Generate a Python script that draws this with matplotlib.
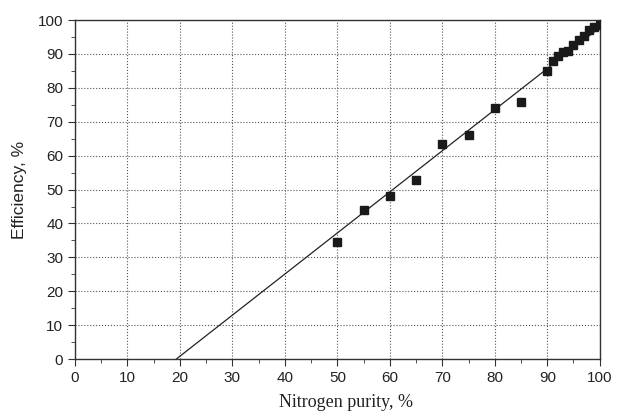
import numpy as np
import matplotlib
matplotlib.use('Agg')
import matplotlib.pyplot as plt
from matplotlib.ticker import MultipleLocator

# measured points
purity = [50, 55, 60, 65, 70, 75, 80, 85, 90, 91, 92, 93, 94, 95, 96, 97, 98, 99, 100]
efficiency = [34.4, 44.0, 48.0, 52.8, 63.3, 66.0, 74.0, 75.8, 85.0, 87.8, 89.3,
              90.5, 91.0, 92.5, 94.0, 95.2, 97.0, 98.0, 98.6]

# linear fit end points
fit_x = [19.3, 100]
fit_y = [0, 97.8]

fig = plt.figure(figsize=(6.17, 4.18), dpi=100)
ax = fig.add_axes([0.1216, 0.141, 0.8504, 0.811])

ax.plot(fit_x, fit_y, color='#222222', lw=0.9, zorder=2)
ax.plot(purity, efficiency, 's', color='#1a1a1a', ms=6, zorder=3)

ax.set_xlim(0, 100)
ax.set_ylim(0, 100)
ax.xaxis.set_major_locator(MultipleLocator(10))
ax.yaxis.set_major_locator(MultipleLocator(10))
ax.xaxis.set_minor_locator(MultipleLocator(5))
ax.yaxis.set_minor_locator(MultipleLocator(5))
ax.tick_params(which='both', direction='out', top=False, right=False,
               labelsize=11, labelcolor='#222222', color='#333333')
ax.tick_params(which='major', length=5)
ax.tick_params(which='minor', length=3)
for lab in ax.get_xticklabels() + ax.get_yticklabels():
    lab.set_fontfamily('Liberation Sans')

ax.grid(True, which='major', ls=':', color='#555555', lw=0.8)
for s in ax.spines.values():
    s.set_color('#333333')
    s.set_linewidth(1.0)

ax.set_xlabel('Nitrogen purity, %', fontfamily='Liberation Serif', fontsize=13,
              color='#222222')
ax.xaxis.set_label_coords(0.517, -0.103)
ax.set_ylabel('Efficiency, %', fontfamily='Liberation Sans', fontsize=12.5,
              color='#222222', labelpad=8)

plt.savefig('out.png', dpi=100)
